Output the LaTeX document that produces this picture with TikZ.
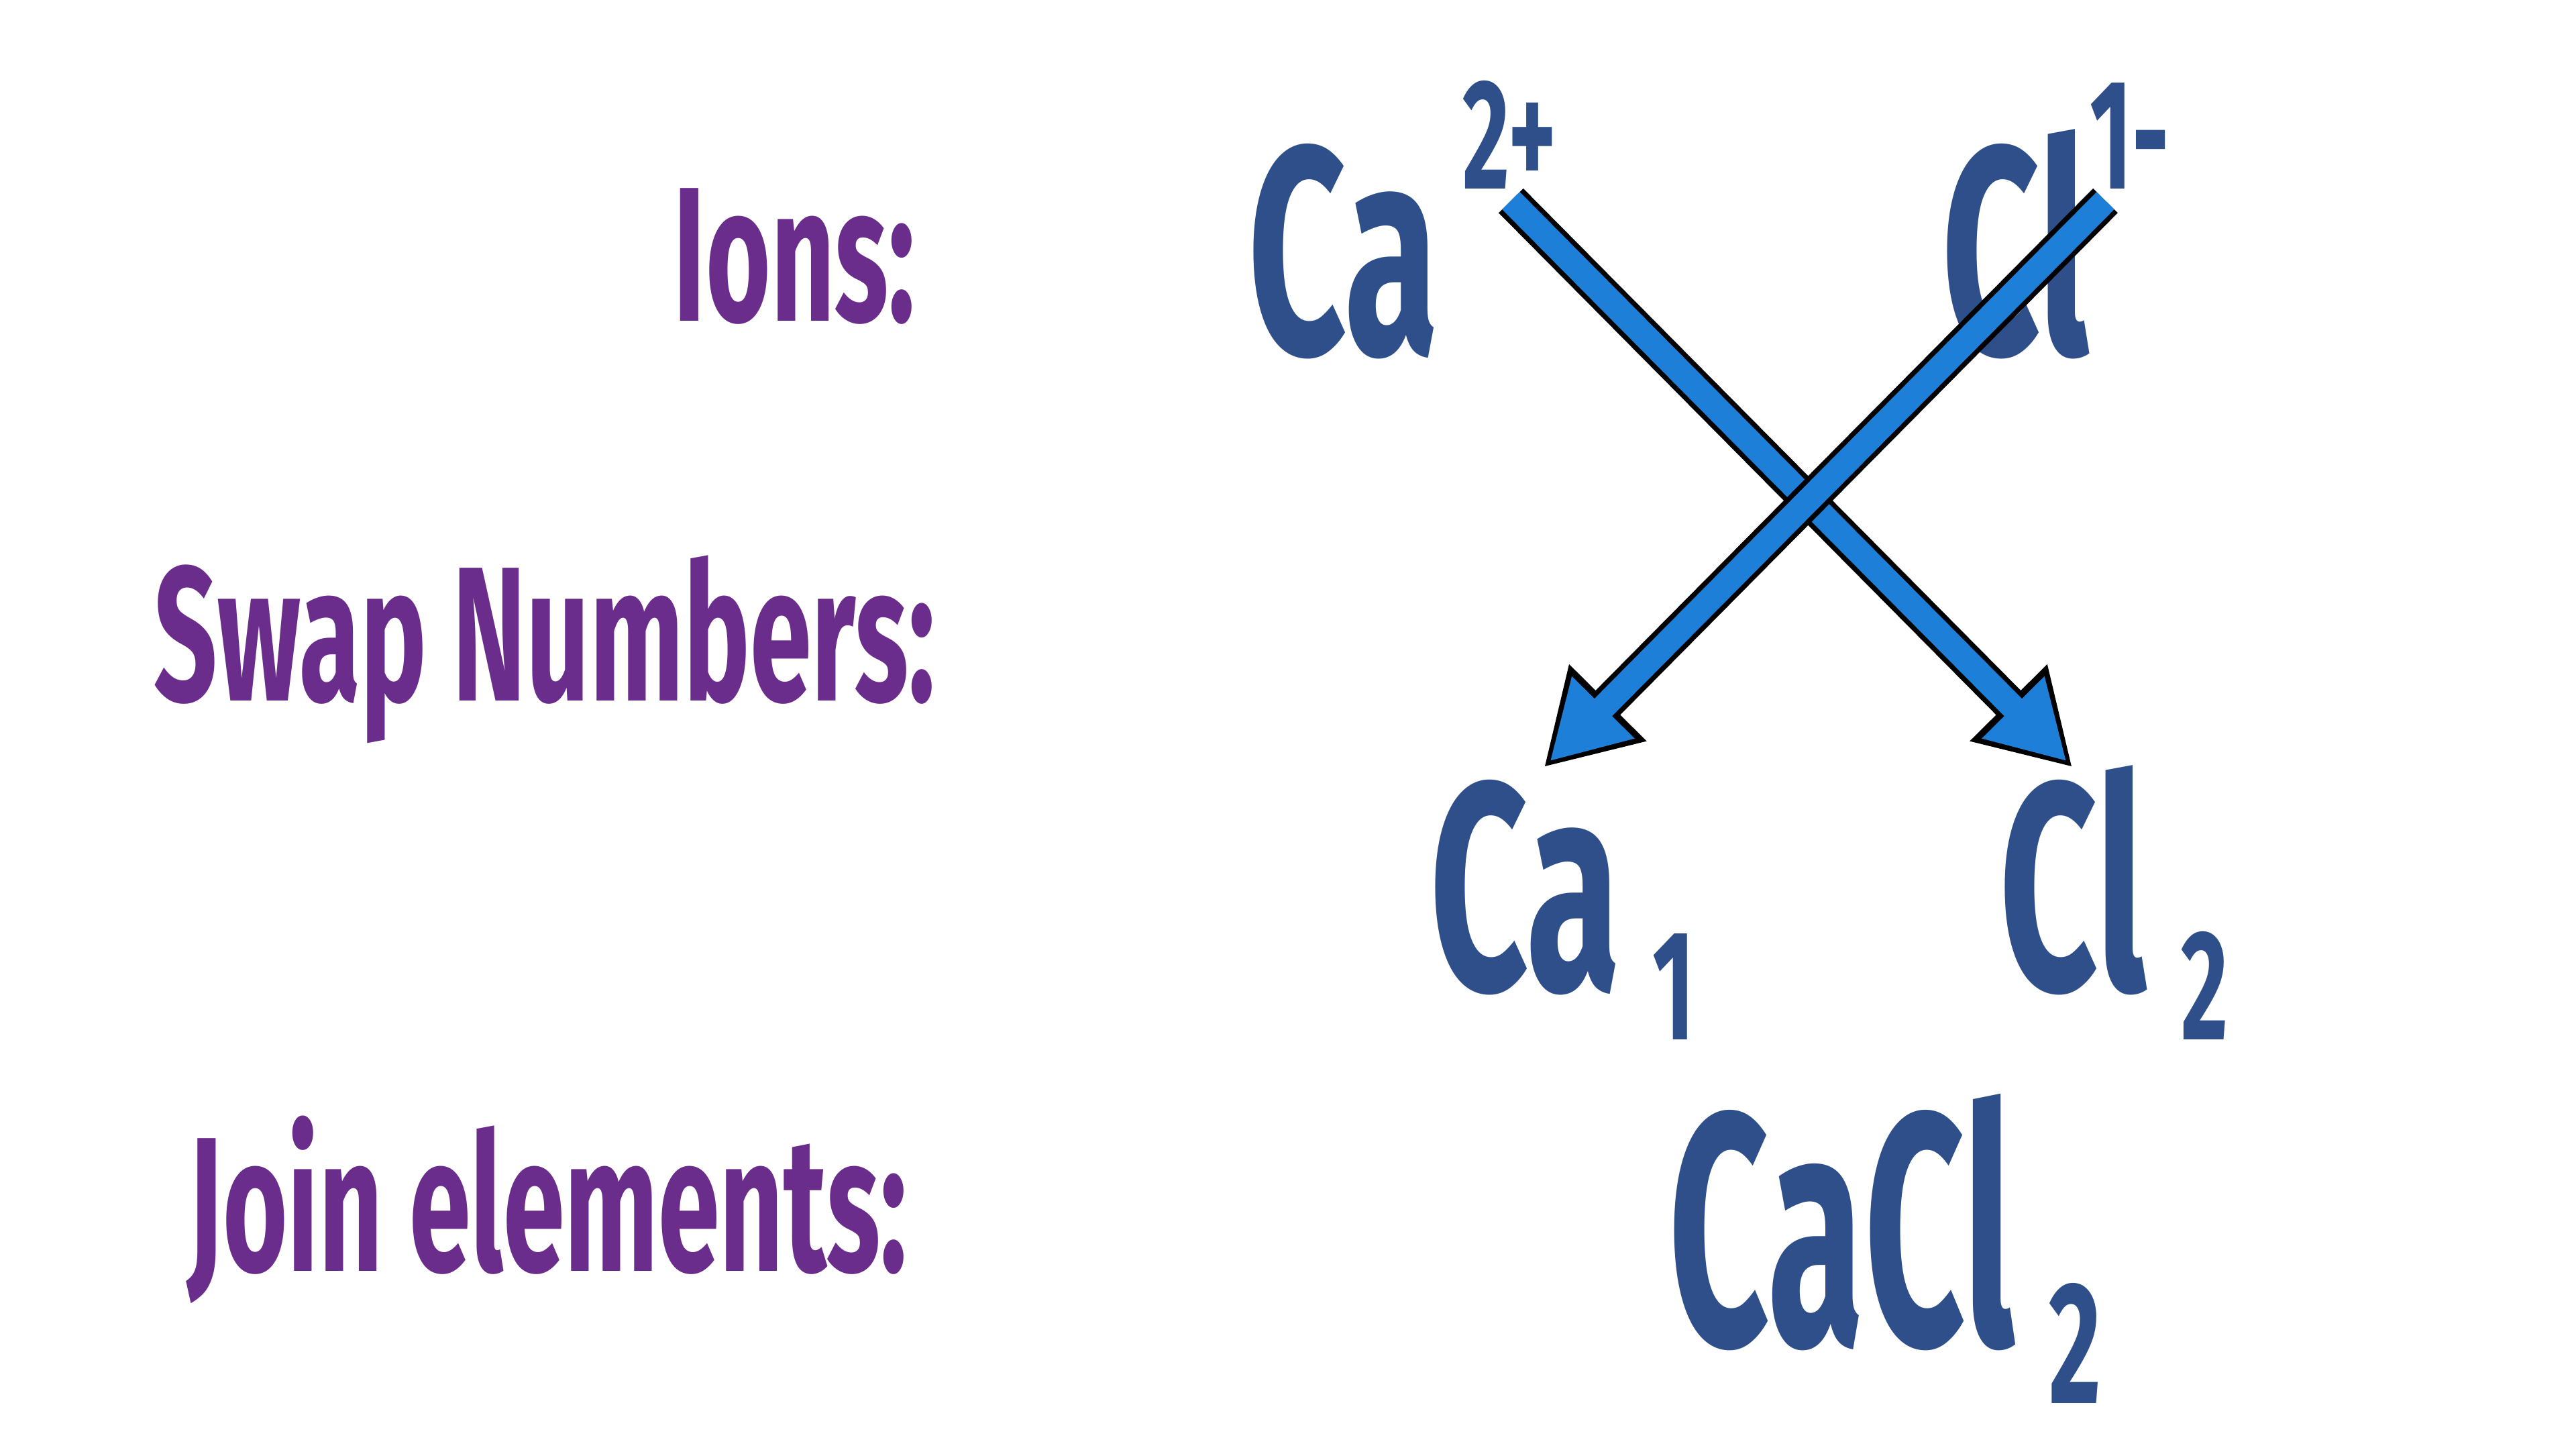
\documentclass[tikz,border=0pt]{standalone}
\usepackage{fontspec}
\newfontfamily\hand[FakeStretch=0.58]{Fira Sans Bold}
\newfontfamily\handnarrow[FakeStretch=0.53]{Fira Sans Bold}
\usetikzlibrary{arrows.meta}
\definecolor{labelpurple}{HTML}{6B2D8B}
\definecolor{ionblue}{HTML}{2F4F8A}
\definecolor{arrowblue}{HTML}{1E7FD8}

\begin{document}
\begin{tikzpicture}[
    step label/.style={anchor=base east,text=labelpurple,font=\hand\fontsize{33}{33}\selectfont,inner sep=0pt},
    symbol/.style={anchor=base west,text=ionblue,font=\hand\fontsize{51}{51}\selectfont,inner sep=0pt},
    small num/.style={anchor=base west,text=ionblue,font=\hand\fontsize{27}{27}\selectfont,inner sep=0pt},
    swap outline/.style={line width=0.21cm,draw=black,-{Triangle[width=0.62cm,length=0.55cm]}},
    swap fill/.style={line width=0.15cm,draw=arrowblue,shorten >=0.05cm,-{Triangle[width=0.5cm,length=0.46cm]}}
    ]
  \useasboundingbox (0,0) rectangle (15.6,8.775);
  % step labels
  \node[step label] (ions) at (5.55,6.83) {Ions:};
  \node[step label] (swap) at (5.67,4.53) {Swap Numbers:};
  \node[step label] (join) at (5.5,1.08) {Join elements:};

  % ions
  \node[symbol] (ca) at (7.55,6.63) {Ca};
  \node[small num] (cacharge) at (8.85,7.63) {2+};
  \node[symbol] (cl) at (11.75,6.63) {Cl};
  \node[small num] (clcharge) at (12.65,7.63) {1-};

  % swapped
  \node[symbol] (ca1) at (8.65,2.78) {Ca};
  \node[small num] (one) at (10.0,2.48) {1};
  \node[symbol] (cl2) at (12.1,2.78) {Cl};
  \node[small num] (two) at (13.2,2.48) {2};

  % joined
  \node[symbol,font=\handnarrow\fontsize{57}{57}\selectfont] (cacl) at (10.1,0.63) {CaCl};
  \node[small num,font=\hand\fontsize{30}{30}\selectfont] (twoj) at (12.4,0.28) {2};

  % swap arrows
  \coordinate (catail) at (9.15,7.56);
  \coordinate (cahead) at (12.55,4.13);
  \coordinate (cltail) at (12.75,7.56);
  \coordinate (clhead) at (9.35,4.13);
  \draw[swap outline] (catail) -- (cahead);
  \draw[swap fill] (catail) -- (cahead);
  \draw[swap outline] (cltail) -- (clhead);
  \draw[swap fill] (cltail) -- (clhead);
\end{tikzpicture}
\end{document}
